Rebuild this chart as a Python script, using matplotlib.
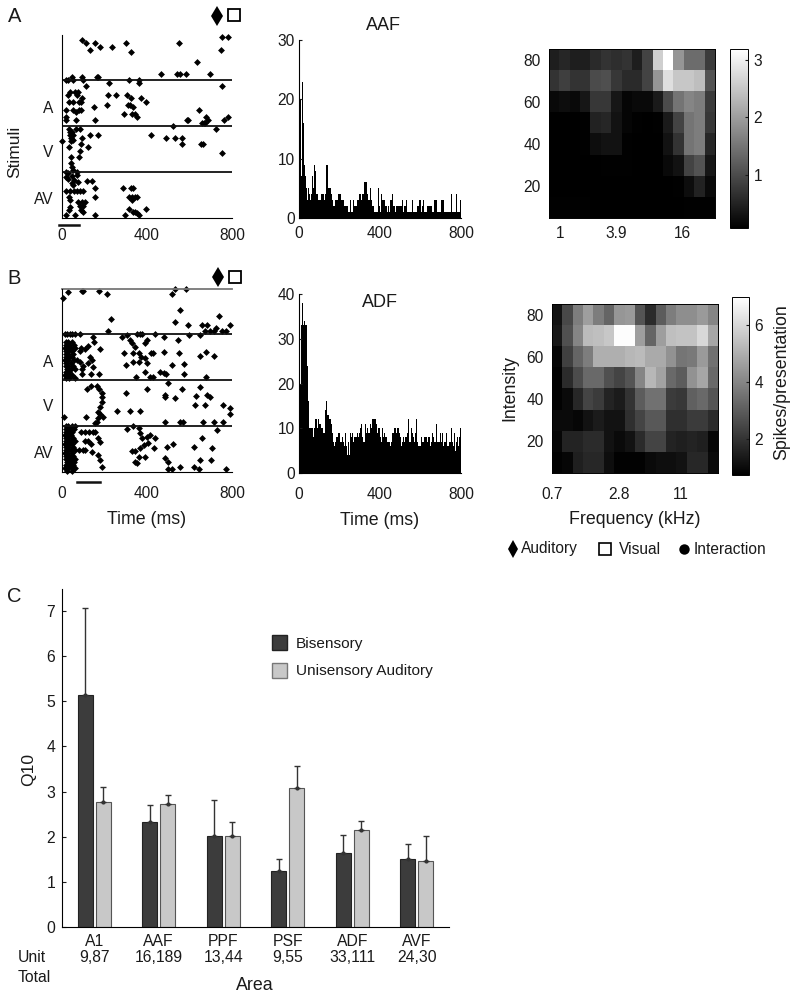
import numpy as np
import matplotlib
matplotlib.use('Agg')
import matplotlib.pyplot as plt
from matplotlib.lines import Line2D
from matplotlib.patches import Patch

plt.rcParams['font.family'] = ['Liberation Sans', 'DejaVu Sans']

# raster data: (time ms, trial), 46 trials per stimulus block
a_spikes = [(94,178),(115,175),(134,168),(156,175),(181,171),(233,171),(299,175),(324,166),(552,175),(637,156),
    (747,168),(755,181),(783,181),(464,144),(542,144),(556,144),(585,144),(698,144),(17,138),(27,138),(46,141),
    (50,138),(96,141),(99,138),(163,141),(168,141),(222,135),(316,138),(360,138),(363,135),(112,132),(753,132),
    (38,126),(63,126),(75,126),(30,123),(72,123),(218,123),(255,123),(305,123),(324,120),(371,120),(395,116),
    (35,116),(53,116),(82,116),(96,120),(90,116),(211,113),(310,113),(321,113),(336,111),(17,108),(53,108),
    (66,106),(82,108),(90,108),(152,111),(646,108),(294,104),(329,104),(343,104),(354,101),(17,101),(20,98),
    (64,98),(157,98),(588,98),(593,98),(678,101),(685,98),(667,95),(657,95),(674,95),(762,98),(780,101),
    (35,89),(66,89),(85,89),(522,92),(723,89),(38,86),(46,86),(38,83),(50,83),(132,83),(171,83),(418,83),
    (93,80),(489,80),(534,80),(564,80),(41,80),(50,78),(2,77),(41,77),(564,74),(654,74),(663,74),(90,74),
    (35,71),(121,71),(85,67),(755,65),(41,61),(82,61),(41,55),(46,51),(53,48),(72,46),(19,46),(30,45),
    (19,41),(46,42),(30,39),(72,43),(57,38),(77,36),(119,37),(140,37),(46,35),(53,33),(156,30),(286,30),
    (324,30),(332,30),(17,27),(38,27),(57,27),(72,27),(85,27),(101,27),(156,21),(313,21),(329,21),(344,21),
    (352,21),(35,21),(38,18),(329,18),(77,16),(93,16),(108,16),(85,12),(38,11),(101,12),(314,9),(336,6),
    (344,6),(395,9),(90,8),(35,8),(19,3),(61,3),(97,6),(157,3),(297,3),(360,3),(352,5)]

b_spikes = [(30,180),(93,181),(101,181),(176,181),(211,178),(516,178),(531,183),(582,183),(6,174),(556,162),
    (231,153),(533,150),(591,147),(737,156),(659,147),(682,147),(726,144),(792,147),(218,141),(674,141),(698,141),
    (714,141),(753,141),(773,141),(14,138),(25,138),(36,138),(46,138),(60,138),(85,138),(148,135),(281,135),
    (305,137),(352,138),(368,138),(376,138),(439,138),(478,135),(544,132),(596,137),(651,137),
    (17,130),(30,130),(46,130),(20,127),(35,127),(55,127),(14,124),(25,124),(40,124),(60,124),(88,124),
    (20,121),(30,121),(45,121),(85,121),(17,118),(27,118),(50,118),(20,115),(35,115),(46,115),(14,112),(30,112),
    (55,112),(72,112),(20,109),(40,109),(17,106),(30,106),(50,106),(25,103),(40,103),(60,103),(20,100),(35,100),
    (14,97),(30,97),(46,97),(20,94),(35,94),(60,94),
    (121,126),(108,123),(179,123),(152,130),(132,115),(140,112),(124,109),(145,105),(93,103),(101,106),(85,110),
    (135,98),(176,98),(93,98),(292,119),(300,107),(321,132),(329,129),(344,125),(360,119),(336,119),(399,132),
    (391,129),(420,119),(428,119),(373,115),(391,114),(336,110),(360,110),(399,109),(391,100),(462,100),(478,99),
    (517,107),(572,108),(478,120),(549,119),(651,116),(679,120),(714,116),(349,95),(415,95),(428,95),(490,98),
    (575,98),(678,95),
    (135,86),(116,83),(167,86),(174,83),(187,79),(187,75),(187,70),(179,65),(171,60),(179,58),(195,55),(171,54),
    (163,50),(156,49),(113,55),(9,55),(302,79),(399,83),(501,89),(486,75),(486,77),(533,74),(564,83),(630,76),
    (682,77),(695,75),(651,85),(627,67),(671,67),(758,67),(789,64),(789,58),(261,61),(321,61),(365,61),(486,50),
    (556,50),(569,50),(663,50),(714,50),(758,50),
    (19,46),(30,46),(46,46),(60,46),(17,43),(27,43),(40,43),(55,43),(20,40),(35,40),(46,40),(90,40),(108,40),
    (125,40),(145,40),(157,40),(14,37),(25,37),(40,37),(19,34),(30,34),(50,34),(170,34),(17,31),(27,31),(40,31),
    (60,31),(108,31),(124,31),(14,28),(25,28),(35,28),(46,28),(138,28),(20,25),(30,25),(50,25),(17,22),(27,22),
    (40,22),(60,22),(82,22),(100,22),(108,22),(14,19),(25,19),(46,19),(20,16),(35,16),(50,16),(17,13),(30,13),
    (45,13),(60,13),(25,10),(40,10),(55,10),(19,7),(35,7),(50,7),(14,4),(27,4),(46,4),(63,4),(25,1),(46,1),
    (179,30),(171,17),(179,12),(187,5),(140,20),(305,43),(333,46),(360,44),(368,39),(376,34),(399,35),(415,37),
    (439,34),(407,29),(431,24),(384,27),(368,24),(344,21),(329,21),(360,15),(391,15),(344,10),(352,9),(494,25),
    (520,28),(486,14),(501,10),(498,3),(517,3),(556,5),(619,5),(646,3),(619,25),(659,34),(706,24),(648,12),
    (701,12),(730,42),(773,3)]

block_edges = [46, 92, 138]
block_centers = [20, 67, 111]
block_labels = ['AV', 'V', 'A']

# PSTH counts, 5 ms bins
aaf_counts = [30,20,7,23,16,9,7,5,3,5, 4,3,4,7,5,9,8,4,4,3,
    3,3,4,4,4,3,4,9,9,5, 5,5,4,3,2,2,3,3,3,4,
    4,3,3,3,2,2,2,2,1,1, 3,1,1,3,2,2,2,3,3,4,
    4,3,4,4,6,6,6,4,3,3, 5,3,2,2,1,1,1,1,5,2,
    1,4,3,3,3,2,2,1,2,1, 3,3,4,2,2,1,2,2,2,2,
    2,2,3,1,2,2,3,1,1,1, 1,1,3,1,1,1,1,2,2,3,
    1,2,3,1,1,1,2,2,2,2, 2,1,1,3,3,3,1,1,1,1,
    3,3,3,1,1,1,1,1,1,1, 4,1,1,1,1,4,1,1,1,3]
adf_counts = [40,20,33,38,33,34,33,33,24,16, 10,10,10,10,8,10,12,12,10,12,
    11,11,10,10,9,9,14,16,13,13, 12,12,11,9,7,6,7,8,8,9,
    7,7,8,7,6,9,6,4,7,4, 9,8,9,7,8,8,8,9,8,9,
    10,11,8,7,7,11,9,10,9,9, 11,10,12,12,12,12,11,9,10,10,
    8,7,10,8,9,8,8,7,7,7, 6,7,9,9,10,10,9,10,10,9,
    8,6,7,8,7,8,8,9,12,7, 7,10,9,8,7,9,12,7,6,6,
    8,7,7,8,8,8,7,8,8,6, 7,9,8,7,7,11,7,7,7,9,
    7,9,6,7,7,9,6,6,7,7, 10,7,6,9,5,7,8,6,8,10]

# receptive fields, rows from 80 dB down to 10 dB
aaf_rf = [[.45,.55,.45,.45,.6,.7,.65,.7,.45,.9,2.6,3.2,1.9,1.4,1.4,.8],
    [.7,.85,.7,.7,1.0,1.05,.75,.6,.6,.9,1.9,2.8,2.5,2.5,2.4,1.1],
    [.2,.25,.2,.35,.75,.75,.35,.15,.2,.2,.4,1.0,1.5,1.7,1.6,.8],
    [.08,.08,.08,.1,.5,.55,.3,.15,.1,.08,.1,.4,.9,1.5,1.6,.75],
    [.08,.08,.08,.1,.25,.3,.3,.1,.08,.08,.08,.3,.7,1.5,1.6,.55],
    [.08,.08,.08,.08,.08,.1,.1,.1,.08,.08,.08,.2,.3,.9,1.1,.35],
    [.08,.08,.08,.08,.08,.08,.08,.08,.08,.08,.08,.08,.1,.25,.5,.2],
    [.1,.1,.1,.1,.08,.08,.08,.08,.08,.08,.08,.08,.08,.1,.1,.1]]
adf_rf = [[1.2,2.5,3.8,4.6,3.8,3.2,4.4,4.5,2.8,1.8,3,3.8,4.2,4.2,4.5,4],
    [1.3,2.7,4,5.3,5.4,5.6,6.9,6.9,4.6,3.2,4.6,5.4,5.5,5.5,6,4.8],
    [.9,2.3,3.2,3.8,5,5,5,5.2,5.3,4.9,4.9,4.3,3.6,3.7,4.5,3.5],
    [.8,1.8,2.6,3.3,3.3,2.7,2.4,2.8,4,5.2,4.7,3.3,3,4.3,4.8,3.3],
    [.8,1,1.7,2.4,2.2,1.6,1.4,2,3,3.5,3.5,2.2,2.1,3.1,3.3,2.8],
    [1,1,.9,1.2,1.4,1.2,1.2,1.9,2.4,2.9,2.9,1.9,1.9,2.2,2.2,1.8],
    [.9,1.6,1.6,1.8,1.8,1.2,1,1.2,1.8,2.4,2.4,1.6,1.5,1.6,1.5,.9],
    [.8,.9,1.5,1.7,1.7,1.1,.8,.8,.8,1,1.1,1.1,1.2,1.7,1.7,1]]

# Q10 bars
areas = ['A1', 'AAF', 'PPF', 'PSF', 'ADF', 'AVF']
unit_totals = ['9,87', '16,189', '13,44', '9,55', '33,111', '24,30']
bisensory = [5.15, 2.32, 2.02, 1.23, 1.65, 1.50]
bisensory_err = [1.93, 0.38, 0.80, 0.27, 0.38, 0.34]
unisensory = [2.78, 2.73, 2.01, 3.08, 2.15, 1.47]
unisensory_err = [0.32, 0.20, 0.31, 0.48, 0.21, 0.54]

W, H = 800, 999
fig = plt.figure(figsize=(W / 100, H / 100), dpi=100)


def px_axes(x0, y0, x1, y1):
    return fig.add_axes([x0 / W, 1 - y1 / H, (x1 - x0) / W, (y1 - y0) / H])


def px_text(x, y, s, **kw):
    kw.setdefault('va', 'center')
    kw.setdefault('color', '#1a1a1a')
    fig.text(x / W, 1 - y / H, s, **kw)


def px_marker(x, y, **kw):
    fig.add_artist(Line2D([x / W], [1 - y / H], transform=fig.transFigure, ls='', **kw))


def raster(box, spikes, ymax, bar, bar_y, pad, xlabel=False):
    ax = px_axes(*box)
    t = [s[0] for s in spikes]
    tr = [s[1] for s in spikes]
    ax.plot(t, tr, ls='', marker='D', ms=3.5, color='black', mew=0, clip_on=False)
    for e in block_edges:
        ax.plot([0, 800], [e, e], color='#111111', lw=1.3)
    ax.set_xlim(0, 800)
    ax.set_ylim(0, ymax)
    ax.spines['top'].set_visible(False)
    ax.spines['right'].set_visible(False)
    ax.set_xticks([0, 400, 800])
    ax.set_yticks(block_centers)
    ax.set_yticklabels(block_labels)
    ax.tick_params(axis='both', length=0, labelsize=11.2, colors='#1a1a1a')
    ax.tick_params(axis='x', pad=pad)
    ax.tick_params(axis='y', pad=6)
    ax.plot(bar, [bar_y, bar_y], color='#111111', lw=1.8, clip_on=False)
    if xlabel:
        ax.set_xlabel('Time (ms)', fontsize=12.8, color='#1a1a1a', labelpad=7)
    return ax


def psth(box, counts, ymax, yticks, pad, xlabel=False):
    ax = px_axes(*box)
    centers = np.arange(len(counts)) * 5 + 2.5
    ax.bar(centers, counts, width=5, color='black', lw=0)
    ax.set_xlim(0, 800)
    ax.set_ylim(0, ymax)
    ax.spines['top'].set_visible(False)
    ax.spines['right'].set_visible(False)
    ax.set_xticks([0, 400, 800])
    ax.set_yticks(yticks)
    ax.tick_params(axis='y', length=2, direction='in', labelsize=11.2, colors='#1a1a1a', pad=3)
    ax.tick_params(axis='x', length=0, labelsize=11.2, colors='#1a1a1a', pad=pad)
    if xlabel:
        ax.set_xlabel('Time (ms)', fontsize=12.8, color='#1a1a1a', labelpad=7)
    return ax


def rf(box, cbox, grid, vmin, vmax, xt, xl, cticks, pad):
    ax = px_axes(*box)
    im = ax.imshow(grid, cmap='gray', vmin=vmin, vmax=vmax, aspect='auto',
                   extent=[0, 16, 5, 85], interpolation='nearest')
    ax.set_xticks(xt)
    ax.set_xticklabels(xl)
    ax.set_yticks([20, 40, 60, 80])
    ax.tick_params(axis='x', length=0, labelsize=11.2, colors='#1a1a1a', pad=pad)
    ax.tick_params(axis='y', length=0, labelsize=11.2, colors='#1a1a1a', pad=6)
    for s in ax.spines.values():
        s.set_linewidth(0.7)
    cax = px_axes(*cbox)
    cb = fig.colorbar(im, cax=cax)
    cb.set_ticks(cticks)
    cb.ax.tick_params(length=2, direction='in', labelsize=11.2, colors='#1a1a1a', pad=4)
    cb.outline.set_linewidth(0.7)
    return ax, cb


# panel A
raster((62, 35, 232, 218), a_spikes, 183, [-15, 82], -7, 7)
px_text(15, 152, 'Stimuli', rotation=90, ha='center', fontsize=12.5)
psth((299, 40, 461, 218), aaf_counts, 30, [0, 10, 20, 30], 6)
px_text(383, 26, 'AAF', ha='center', fontsize=13)
rf((549, 49, 715, 218), (730, 49, 748, 228), aaf_rf, 0.08, 3.19,
   [1.1, 6.5, 12.9], ['1', '3.9', '16'], [1, 2, 3], 5.5)

# panel B
ax_b = raster((62, 289, 232, 472), b_spikes, 183, [69, 179], -10, 10, xlabel=True)
ax_b.plot([0, 800], [183, 183], color='#777777', lw=1.3, clip_on=False)
psth((299, 294, 461, 473), adf_counts, 40, [0, 10, 20, 30, 40], 10, xlabel=True)
px_text(380, 302, 'ADF', ha='center', fontsize=13)
ax_rb, cb_b = rf((552, 304, 718, 473), (732, 297, 749, 475), adf_rf, 0.74, 6.97,
                 [0, 6.5, 12.4], ['0.7', '2.8', '11'], [2, 4, 6], 10)
ax_rb.set_xlabel('Frequency (kHz)', fontsize=12.8, color='#1a1a1a', labelpad=6.5)
ax_rb.set_ylabel('Intensity', fontsize=12.8, color='#1a1a1a', labelpad=6)
px_text(782, 382, 'Spikes/presentation', rotation=90, ha='center', fontsize=12.8)

# key markers
px_marker(217, 16, marker='d', ms=10.5, color='black', mew=0)
px_marker(234, 15, marker='s', ms=8.5, mfc='white', mec='black', mew=1.3)
px_marker(218, 277, marker='d', ms=10.5, color='black', mew=0)
px_marker(235, 277, marker='s', ms=8.5, mfc='white', mec='black', mew=1.3)
px_marker(513, 549, marker='d', ms=9, color='black', mew=0)
px_text(521, 549, 'Auditory', fontsize=11.2)
px_marker(605, 549, marker='s', ms=8, mfc='white', mec='black', mew=1.2)
px_text(619, 549, 'Visual', fontsize=11.2)
px_marker(684, 549, marker='o', ms=7.5, color='black', mew=0)
px_text(694, 549, 'Interaction', fontsize=11.2)

px_text(8, 16, 'A', fontsize=14.5)
px_text(7, 279, 'B', fontsize=14.5)
px_text(7, 597, 'C', fontsize=14.5)

# panel C
ax = px_axes(62, 589, 449, 927)
pos = np.arange(len(areas))
ax.bar(pos - 0.142, bisensory, width=0.235, color='#3c3c3c', edgecolor='#222222', lw=0.8)
ax.bar(pos + 0.142, unisensory, width=0.235, color='#c8c8c8', edgecolor='#555555', lw=0.8)
ax.errorbar(pos - 0.142, bisensory, yerr=[[0] * 6, bisensory_err], fmt='.', ms=4, color='#333333',
            elinewidth=1, capsize=2.5, capthick=1)
ax.errorbar(pos + 0.142, unisensory, yerr=[[0] * 6, unisensory_err], fmt='.', ms=4, color='#333333',
            elinewidth=1, capsize=2.5, capthick=1)
ax.set_xlim(-0.5, 5.5)
ax.set_ylim(0, 7.49)
ax.spines['top'].set_visible(False)
ax.spines['right'].set_visible(False)
ax.set_yticks(range(8))
ax.set_xticks(pos)
ax.set_xticklabels([a + '\n' + u for a, u in zip(areas, unit_totals)], linespacing=1.12)
ax.tick_params(axis='y', length=3, direction='in', labelsize=11.3, colors='#1a1a1a', pad=5)
ax.tick_params(axis='x', length=0, labelsize=11.3, colors='#1a1a1a', pad=5)
px_text(29, 770, 'Q10', rotation=90, ha='center', fontsize=12.6)
px_text(18, 958, 'Unit', fontsize=11.3)
px_text(18, 977, 'Total', fontsize=11.3)
px_text(255, 985, 'Area', ha='center', fontsize=12.8)
handles = [Patch(facecolor='#3c3c3c', edgecolor='#222222', label='Bisensory'),
           Patch(facecolor='#c8c8c8', edgecolor='#777777', label='Unisensory Auditory')]
fig.legend(handles=handles, loc='upper left', bbox_to_anchor=(258 / W, 1 - 621 / H), frameon=False,
           fontsize=11.1, handlelength=1.0, handleheight=1.1, labelspacing=0.8, handletextpad=0.55,
           labelcolor='#1a1a1a')

fig.savefig('out.png', dpi=100)
